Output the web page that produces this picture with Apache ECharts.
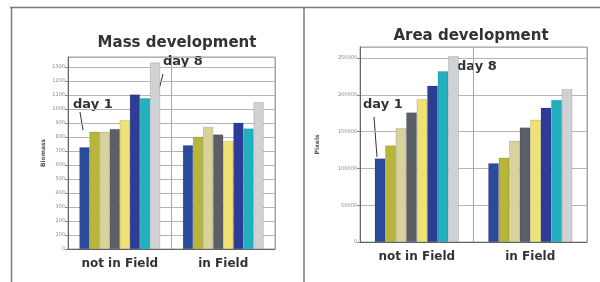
<!DOCTYPE html>
<html>
<head>
<meta charset="utf-8">
<script src="https://cdn.jsdelivr.net/npm/echarts@6/dist/echarts.min.js"></script>
<style>
  html, body { margin: 0; padding: 0; background: #fff; }
  #main { width: 600px; height: 282px; }
</style>
</head>
<body>
<div id="main"></div>
<script>
// groups on the x axis
var categories = ['not in Field', 'in Field']
// one bar per day, day 1 .. day 8
var days = ['day 1', 'day 2', 'day 3', 'day 4', 'day 5', 'day 6', 'day 7', 'day 8']
var dayColors = ['#2a4a9c', '#b7b53c', '#d8d29e', '#5b5f66', '#efe274', '#2d3c96', '#20b0be', '#cfd1d4']

// Mass development
var massNotInField = [726, 836, 836, 857, 919, 1102, 1076, 1330]
var massInField = [740, 800, 871, 817, 769, 900, 860, 1048]

// Area development
var areaNotInField = [113500, 131000, 154500, 176000, 194000, 212500, 232000, 252500]
var areaInField = [107000, 114500, 137500, 155500, 166000, 182500, 193000, 207500]

var font = 'DejaVu Sans'
var myChart = echarts.init(document.getElementById('main'))

function makeSeries(axisIndex, a, b) {
    return days.map(function (d, i) {
        return {
            name: d,
            type: 'bar',
            xAxisIndex: axisIndex,
            yAxisIndex: axisIndex,
            barGap: 0,
            barCategoryGap: axisIndex === 0 ? '22%' : '26%',
            itemStyle: { color: dayColors[i], borderColor: 'rgba(0,0,0,0.25)', borderWidth: 0.5 },
            data: [a[i], b[i]]
        }
    })
}

var xAxisBase = {
    type: 'category',
    data: categories,
    axisTick: { show: false },
    axisLine: { lineStyle: { color: '#666', width: 1 } },
    splitLine: { show: true, interval: 0, lineStyle: { color: '#a8a8a8', width: 1 } },
    axisLabel: { fontFamily: font, fontWeight: 'bold', fontSize: 12, color: '#333', margin: 9 }
}
var yAxisBase = {
    type: 'value',
    min: 0,
    axisLine: { show: true, lineStyle: { color: '#666', width: 1 } },
    axisTick: { show: true, length: 3, lineStyle: { color: '#888' } },
    splitLine: { lineStyle: { color: '#b4b4b4', width: 1 } },
    nameLocation: 'middle',
    nameRotate: 90,
    nameTextStyle: { fontFamily: font, fontWeight: 'bold', fontSize: 6, color: '#555' },
    axisLabel: {
        fontFamily: font, fontSize: 5, color: '#8a8a8a', margin: 3, showMaxLabel: false,
        formatter: function (v) { return String(v) }
    }
}

function line(x1, y1, x2, y2) {
    return { type: 'line', shape: { x1: x1, y1: y1, x2: x2, y2: y2 }, style: { stroke: '#7a7a7a', lineWidth: 1.5 } }
}
function note(txt, x, y) {
    return { type: 'text', x: x, y: y, style: { text: txt, font: 'bold 13px "DejaVu Sans"', fill: '#333', textAlign: 'left', textVerticalAlign: 'middle' } }
}
function pointer(x1, y1, x2, y2) {
    return { type: 'line', shape: { x1: x1, y1: y1, x2: x2, y2: y2 }, style: { stroke: '#333', lineWidth: 1 } }
}

myChart.setOption({
    backgroundColor: '#fff',
    animation: false,
    title: [
        { text: 'Mass development', left: 172, top: 31, textAlign: 'center',
          textStyle: { fontFamily: font, fontWeight: 'bold', fontSize: 15, color: '#333' } },
        { text: 'Area development', left: 466, top: 24, textAlign: 'center',
          textStyle: { fontFamily: font, fontWeight: 'bold', fontSize: 15, color: '#333' } }
    ],
    grid: [
        { left: 68, top: 57, width: 207, height: 192, show: true, borderColor: '#a0a0a0', borderWidth: 1 },
        { left: 360, top: 47, width: 227, height: 195, show: true, borderColor: '#a0a0a0', borderWidth: 1 }
    ],
    xAxis: [
        Object.assign({}, xAxisBase, { gridIndex: 0 }),
        Object.assign({}, xAxisBase, { gridIndex: 1 })
    ],
    yAxis: [
        Object.assign({}, yAxisBase, { gridIndex: 0, max: 1370, interval: 100, name: 'Biomass', nameGap: 22 }),
        Object.assign({}, yAxisBase, { gridIndex: 1, max: 265000, interval: 50000, name: 'Pixels', nameGap: 40 })
    ],
    series: makeSeries(0, massNotInField, massInField).concat(makeSeries(1, areaNotInField, areaInField)),
    graphic: [
        // page frame
        line(10, 7.5, 600, 7.5),
        line(11.5, 7, 11.5, 282),
        line(304, 7, 304, 282),
        // annotations, left chart
        note('day 1', 73, 105),
        pointer(80, 112, 83, 130),
        note('day 8', 163, 62),
        pointer(163, 74, 157, 97),
        // annotations, right chart
        note('day 1', 363, 105),
        pointer(374, 117, 377, 157),
        note('day 8', 457, 67),
        pointer(457, 80, 451, 103)
    ]
})
</script>
</body>
</html>
